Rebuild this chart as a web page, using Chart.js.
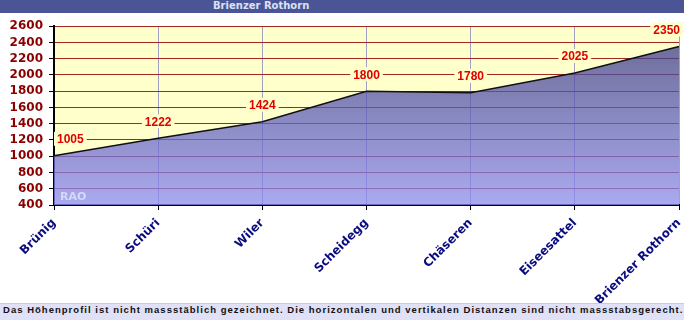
<!DOCTYPE html>
<html>
<head>
<meta charset="utf-8">
<script src="https://cdn.jsdelivr.net/npm/chart.js@4"></script>
<style>
  html, body { margin: 0; padding: 0; background: #fff; }
  body { width: 684px; height: 320px; overflow: hidden; position: relative; }
  #titlebar {
    position: absolute; left: 0; top: 0; width: 684px; height: 13px;
    background: #4b5595;
  }
  #titlebar span {
    position: absolute; left: 213px; top: 0; line-height: 13px;
    font: bold 10px "DejaVu Sans", sans-serif; letter-spacing: 0px; color: #dae2fa;
  }
  #wrap { position: absolute; left: 0; top: 13px; width: 684px; height: 290px; }
  #footer {
    position: absolute; left: 0; top: 303px; width: 684px; height: 17px;
    background: #e0e0f7; border-top: 1px solid #c8c8e8; box-sizing: border-box;
  }
  #footer span {
    position: absolute; left: 3px; top: 0; line-height: 16px; white-space: nowrap;
    font: bold 9.5px "Liberation Sans", Arial, sans-serif; letter-spacing: 1.02px; color: #111;
  }
</style>
</head>
<body>
<div id="titlebar"><span>Brienzer Rothorn</span></div>
<div id="wrap"><canvas id="profileChart" width="684" height="290"></canvas></div>
<div id="footer"><span>Das Höhenprofil ist nicht massstäblich gezeichnet. Die horizontalen und vertikalen Distanzen sind nicht massstabsgerecht.</span></div>

<script>
// stations along the line and their altitude (m)
const stations = ['Brünig', 'Schüri', 'Wiler', 'Scheidegg', 'Chäseren', 'Eiseesattel', 'Brienzer Rothorn'];
const altitudes = [1005, 1222, 1424, 1800, 1780, 2025, 2350];
const yMin = 400;
const yMax = 2600;
const yStep = 200;

// value labels above each point, on a yellow patch
const valueLabels = {
  id: 'valueLabels',
  afterDatasetsDraw(chart) {
    const ctx = chart.ctx;
    const area = chart.chartArea;
    const meta = chart.getDatasetMeta(0);
    ctx.save();

    // watermark
    ctx.font = 'bold 11px "DejaVu Sans", sans-serif';
    ctx.fillStyle = 'rgba(255,255,255,0.55)';
    ctx.textAlign = 'left';
    ctx.textBaseline = 'middle';
    ctx.fillText('RAO', area.left + 6, area.bottom - 8);

    ctx.font = 'bold 12px "Liberation Sans", Arial, sans-serif';
    ctx.textAlign = 'center';
    meta.data.forEach((pt, i) => {
      const text = String(altitudes[i]);
      const w = ctx.measureText(text).width;
      let x = pt.x;
      x = Math.max(x, area.left + w / 2 + 3);
      x = Math.min(x, chart.width - w / 2 - 4);
      const y = pt.y - 17;
      ctx.fillStyle = '#ffffcc';
      ctx.fillRect(x - w / 2 - 3, y - 7, w + 6, 14);
      ctx.fillStyle = '#e00000';
      ctx.fillText(text, x, y + 1);
    });
    ctx.restore();
  }
};

// yellow plot background
const plotBackground = {
  id: 'plotBackground',
  beforeDraw(chart) {
    const a = chart.chartArea;
    chart.ctx.save();
    chart.ctx.fillStyle = '#ffffcc';
    chart.ctx.fillRect(a.left, a.top, a.right - a.left, a.bottom - a.top);
    chart.ctx.restore();
  }
};

const ctx = document.getElementById('profileChart');
new Chart(ctx, {
  type: 'line',
  data: {
    labels: stations,
    datasets: [{
      data: altitudes,
      borderColor: '#111',
      borderWidth: 1.5,
      pointRadius: 0,
      tension: 0,
      fill: 'start',
      backgroundColor: function(context) {
        const chart = context.chart;
        const a = chart.chartArea;
        if (!a) return 'rgba(100,100,200,0.75)';
        const g = chart.ctx.createLinearGradient(0, a.top + 20, 0, a.bottom);
        g.addColorStop(0, 'rgba(62,62,140,0.75)');
        g.addColorStop(1, 'rgba(141,141,252,0.75)');
        return g;
      }
    }]
  },
  options: {
    responsive: false,
    animation: false,
    events: [],
    layout: { padding: { left: 0, right: 5, top: 12, bottom: 0 } },
    plugins: {
      legend: { display: false },
      tooltip: { enabled: false }
    },
    scales: {
      x: {
        offset: false,
        afterFit: function(scale) {
          scale.height = 98;
          // labels end at their tick, so no extra side padding is needed
          scale.paddingLeft = 0;
          scale.paddingRight = 0;
        },
        grid: {
          color: '#a0a0c4',
          lineWidth: 1,
          tickColor: '#000',
          tickLength: 5,
          offset: false
        },
        border: { color: '#000', width: 2 },
        ticks: {
          color: '#0b0b80',
          font: { family: '"DejaVu Sans", sans-serif', size: 12, weight: 'bold' },
          minRotation: 45,
          maxRotation: 45,
          padding: 6,
          autoSkip: false
        }
      },
      y: {
        min: yMin,
        max: yMax,
        afterFit: function(scale) { scale.width = 54; },
        grid: {
          color: '#a02a22',
          lineWidth: 1,
          tickColor: '#000',
          tickLength: 5
        },
        border: { color: '#000', width: 2 },
        ticks: {
          stepSize: yStep,
          autoSkip: false,
          color: '#8a0000',
          padding: 6,
          font: { family: '"DejaVu Sans", sans-serif', size: 12, weight: 'bold' },
          callback: function(value) { return String(value); }
        }
      }
    }
  },
  plugins: [plotBackground, valueLabels]
});
</script>
</body>
</html>
